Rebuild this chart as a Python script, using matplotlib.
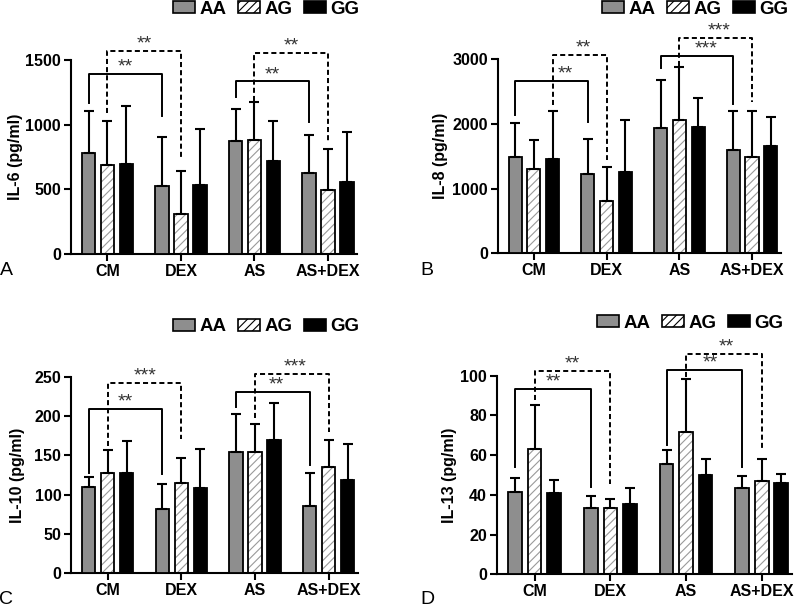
#!/usr/bin/env python3
"""Four-panel cytokine bar chart (IL-6, IL-8, IL-10, IL-13) by genotype."""

import matplotlib

matplotlib.use("Agg")
import matplotlib.pyplot as plt
from matplotlib.patches import Patch

plt.rcParams["font.family"] = ["Liberation Sans", "DejaVu Sans"]
plt.rcParams["hatch.linewidth"] = 0.8

CATEGORIES = ["CM", "DEX", "AS", "AS+DEX"]
GENOTYPES = ["AA", "AG", "GG"]

# means per genotype (rows AA, AG, GG) and upper SD
IL6_MEAN = [[780, 522, 871, 625], [688, 306, 884, 494], [699, 532, 722, 555]]
IL6_SD = [[323, 383, 250, 298], [340, 334, 288, 321], [445, 432, 309, 388]]

IL8_MEAN = [[1495, 1227, 1943, 1598], [1304, 809, 2057, 1490], [1459, 1258, 1954, 1660]]
IL8_SD = [[515, 546, 737, 598], [443, 521, 819, 706], [742, 804, 453, 453]]

IL10_MEAN = [[110, 82, 154, 86], [128, 115, 154, 135], [127, 108, 169, 119]]
IL10_SD = [[13, 32, 48, 42], [29, 31, 36, 34], [41, 50, 48, 46]]

IL13_MEAN = [[41.5, 33.3, 55.4, 43.6], [63.1, 33.3, 71.9, 46.9], [40.7, 35.3, 49.9, 46.1]]
IL13_SD = [[7.1, 6.2, 7.1, 5.8], [22.3, 4.7, 26.3, 11.4], [6.7, 8.4, 8.2, 4.3]]

# significance brackets: (cat1, geno1, cat2, geno2, y_left, y_top, y_right, dashed, stars)
IL6_SIG = [
    (0, 0, 1, 0, 1170, 1391, 1064, False, "**"),
    (0, 1, 1, 1, 1090, 1568, 725, True, "**"),
    (2, 0, 3, 0, 1213, 1334, 1020, False, "**"),
    (2, 1, 3, 1, 1180, 1555, 871, True, "**"),
]
IL8_SIG = [
    (0, 0, 1, 0, 2139, 2665, 2036, False, "**"),
    (0, 2, 1, 1, 2294, 3067, 1443, True, "**"),
    (2, 0, 3, 0, 2861, 3052, 2304, False, "***"),
    (2, 1, 3, 1, 2900, 3325, 2345, True, "***"),
]
IL10_SIG = [
    (0, 0, 1, 0, 127, 209, 126, False, "**"),
    (0, 1, 1, 1, 162, 242, 171, True, "***"),
    (2, 0, 3, 0, 211, 230, 138, False, "**"),
    (2, 1, 3, 1, 197, 253, 180, True, "***"),
]
IL13_SIG = [
    (0, 0, 1, 0, 54.1, 93.5, 44.1, False, "**"),
    (0, 1, 1, 1, 88, 102.2, 45.7, True, "**"),
    (2, 0, 3, 0, 65, 103, 54.1, False, "**"),
    (2, 1, 3, 1, 99.3, 111, 62.5, True, "**"),
]

STEP = 0.258
WIDTH = 0.18
AA_COLOR = "#8e8e8e"
HATCH_COLOR = "#9a9a9a"
TEXT_SIZE = 11.5


def bar_x(cat, geno):
    return cat + (geno - 1) * STEP


def draw_panel(ax, means, sds, sig, ymax, yticks, ylabel, label_x, star_dx):
    cats = range(len(CATEGORIES))
    for g, geno in enumerate(GENOTYPES):
        xs = [bar_x(c, g) for c in cats]
        if geno == "AG":
            ax.bar(xs, means[g], WIDTH, color="white", edgecolor=HATCH_COLOR,
                   hatch="////", linewidth=0, zorder=2)
            ax.bar(xs, means[g], WIDTH, fill=False, edgecolor="black",
                   linewidth=1.3, zorder=3)
        else:
            face = AA_COLOR if geno == "AA" else "black"
            ax.bar(xs, means[g], WIDTH, color=face, edgecolor="black",
                   linewidth=1.3, zorder=3)
        ax.errorbar(xs, means[g], yerr=[[0] * len(xs), sds[g]], fmt="none",
                    ecolor="black", elinewidth=1.5, capsize=3.5, capthick=1.5,
                    zorder=4, clip_on=False)

    for i, (c1, g1, c2, g2, yl, yt, yr, dashed, stars) in enumerate(sig):
        x1, x2 = bar_x(c1, g1), bar_x(c2, g2)
        ls = (0, (2.6, 1.6)) if dashed else "-"
        ax.plot([x1, x1, x2, x2], [yl, yt, yt, yr], color="black", lw=1.4,
                ls=ls, clip_on=False, zorder=5)
        ax.annotate(stars, ((x1 + x2) / 2 + star_dx[i], yt), xytext=(0, 5),
                    textcoords="offset points", ha="center", va="center",
                    fontsize=14, color="#333333", annotation_clip=False)

    ax.set_xlim(-0.5, 3.4)
    ax.set_ylim(0, ymax)
    ax.set_yticks(yticks)
    ax.set_xticks(list(cats))
    ax.set_xticklabels(CATEGORIES, fontsize=TEXT_SIZE, fontweight="bold")
    for t in ax.get_yticklabels():
        t.set_fontsize(TEXT_SIZE)
        t.set_fontweight("bold")
    ax.set_ylabel(ylabel, fontsize=TEXT_SIZE, fontweight="bold")
    ax.yaxis.set_label_coords(label_x, 0.5)
    for side in ("top", "right"):
        ax.spines[side].set_visible(False)
    for side in ("left", "bottom"):
        ax.spines[side].set_linewidth(1.5)
    ax.tick_params(width=1.5, length=5, pad=2)


def add_legend(fig, cx, cy):
    handles = [
        Patch(facecolor=AA_COLOR, edgecolor="black", linewidth=1.2),
        Patch(facecolor="white", edgecolor=HATCH_COLOR, hatch="////", linewidth=1.2),
        Patch(facecolor="black", edgecolor="black", linewidth=1.2),
    ]
    leg = fig.legend(handles, GENOTYPES, loc="center", bbox_to_anchor=(cx, cy),
                     ncol=3, frameon=False, handlelength=1.17, handleheight=0.6,
                     handletextpad=0.25, columnspacing=0.6, borderpad=0,
                     prop={"weight": "bold", "size": 13.5})
    # outline the hatched handle in black
    leg.legend_handles[1].set_edgecolor("black")
    return leg


def main():
    fig = plt.figure(figsize=(8, 6.11), dpi=100)
    ax_a = fig.add_axes([0.0884, 0.5843, 0.3583, 0.3175])
    ax_b = fig.add_axes([0.622, 0.5854, 0.3543, 0.3175])
    ax_c = fig.add_axes([0.0888, 0.0617, 0.3588, 0.3218])
    ax_d = fig.add_axes([0.621, 0.0601, 0.369, 0.325])

    draw_panel(ax_a, IL6_MEAN, IL6_SD, IL6_SIG, 1500, [0, 500, 1000, 1500],
               "IL-6 (pg/ml)", -0.168, [0, 0, 0, 0])
    draw_panel(ax_b, IL8_MEAN, IL8_SD, IL8_SIG, 3000, [0, 1000, 2000, 3000],
               "IL-8 (pg/ml)", -0.175, [0.19, 0.05, 0.12, 0.05])
    draw_panel(ax_c, IL10_MEAN, IL10_SD, IL10_SIG, 250, [0, 50, 100, 150, 200, 250],
               "IL-10 (pg/ml)", -0.162, [0, 0, 0.04, 0.04])
    draw_panel(ax_d, IL13_MEAN, IL13_SD, IL13_SIG, 100, [0, 20, 40, 60, 80, 100],
               "IL-13 (pg/ml)", -0.135, [0, 0, 0.08, 0.03])

    add_legend(fig, 0.333, 0.985)
    add_legend(fig, 0.869, 0.985)
    add_legend(fig, 0.333, 0.465)
    add_legend(fig, 0.863, 0.471)

    for letter, x, y in [("A", 6, 270), ("B", 427, 270), ("C", 6, 600), ("D", 427, 599)]:
        fig.text(x / 800, 1 - y / 611, letter, fontsize=14, ha="center", va="center")

    fig.savefig("out.png", dpi=100)
    plt.close(fig)


if __name__ == "__main__":
    main()
